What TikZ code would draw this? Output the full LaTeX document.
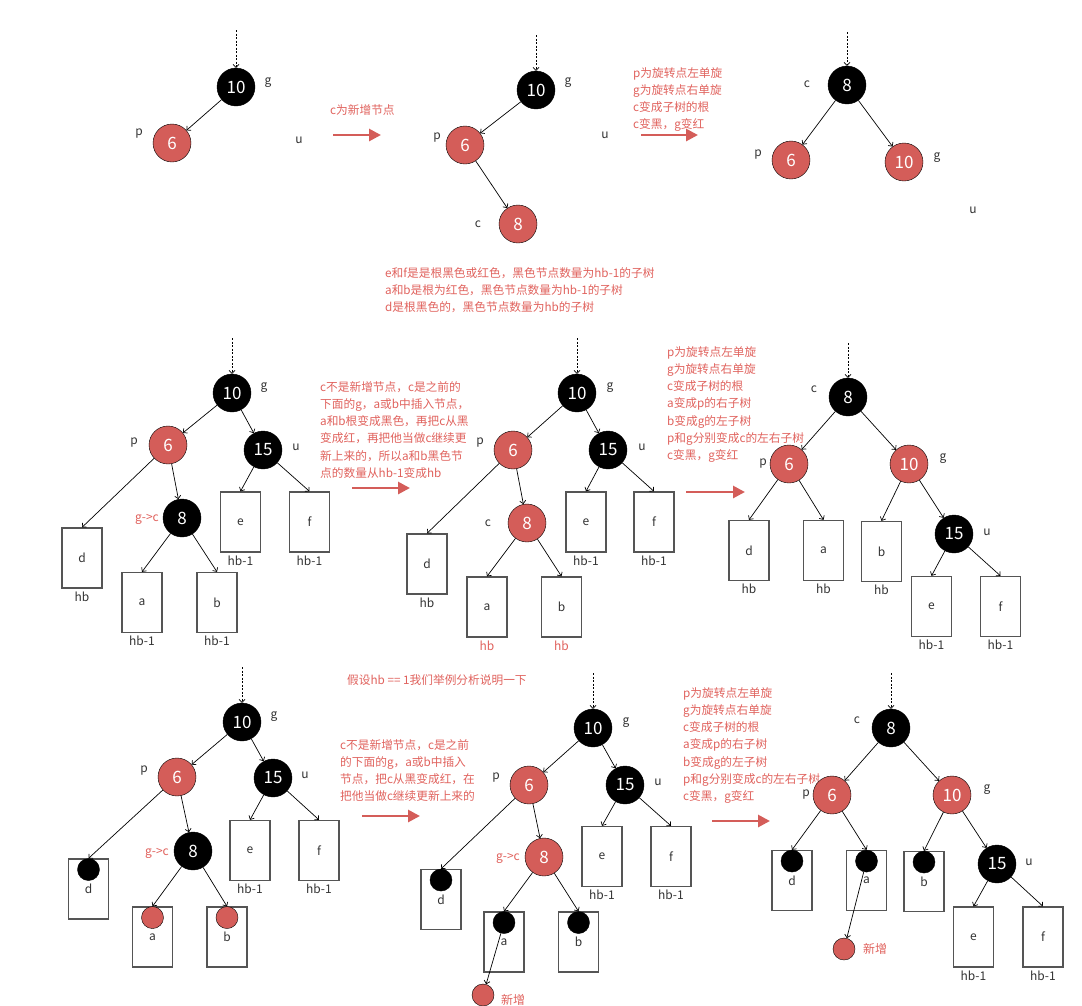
\documentclass[tikz,border=0pt]{standalone}
\usepackage{fontspec}
\setmainfont{Noto Sans CJK SC}
\usetikzlibrary{arrows.meta,positioning}
\definecolor{nodered}{RGB}{212,93,89}
\definecolor{notered}{RGB}{224,98,93}
\definecolor{tagtext}{RGB}{51,51,51}
\definecolor{boxline}{RGB}{85,85,85}
\tikzset{
  blk/.style={circle,draw=black,fill=black,text=white,minimum size=38pt,inner sep=0pt,font=\fontsize{17}{17}\selectfont},
  rd/.style={blk,fill=nodered},
  tag/.style={text=tagtext,font=\fontsize{12}{12}\selectfont,inner sep=1pt},
  redtag/.style={tag,text=notered},
  subbox/.style={draw=boxline,line width=1.3pt,minimum width=40pt,minimum height=60pt,inner sep=0pt,text=tagtext,font=\fontsize{12}{12}\selectfont},
  edge/.style={-{Straight Barb[length=3pt,width=6pt]},line width=0.7pt},
  feed/.style={edge,dash pattern=on 2pt off 1.5pt},
  note/.style={text=notered,align=left,anchor=north west,inner sep=0pt,font=\fontsize{11.7}{17.3}\selectfont},
  go/.style={draw=nodered,line width=2.8pt,-{Triangle[length=12pt,width=12pt]}},
  dot/.style={circle,draw=black,minimum size=22pt,inner sep=0pt},
}
\newcommand*\subtree[5][]{\node[subbox,#1] (#2) at (#3,#4) {#5};}
\newcommand*\hbtag[3][]{\node[tag,below=2pt of #2,#1] (#2-hb) {#3};}
\newcommand*\topdot[3][black]{\node[dot,fill=#1,anchor=north] (#2) at (#3.north) {};}

\begin{document}
\begin{tikzpicture}[x=1pt,y=-1pt]
\useasboundingbox (0,0) rectangle (1082,1005);

% top row: c is new
\coordinate (t1) at (236,30);
\node[blk] (g1) at (236,87) {10};
\node[rd] (p1) at (172,143) {6};
\node[tag] (g1l) at (268,83) {g};
\node[tag] (p1l) at (139,134) {p};
\node[tag] (u1l) at (299,140) {u};
\draw[feed] (t1) -- (g1);
\draw[edge] (g1) -- (p1);

\node[note] (n1) at (330,104) {c为新增节点};
\coordinate (a1s) at (333,135);
\coordinate (a1e) at (381,135);
\draw[go] (a1s) -- (a1e);

\coordinate (t2) at (536,35);
\node[blk] (g2) at (536,90) {10};
\node[rd] (p2) at (465,145) {6};
\node[rd] (c2) at (518,224) {8};
\node[tag] (g2l) at (568,83) {g};
\node[tag] (p2l) at (437,138) {p};
\node[tag] (u2l) at (605,135) {u};
\node[tag] (c2l) at (478,224) {c};
\draw[feed] (t2) -- (g2);
\draw[edge] (g2) -- (p2);
\draw[edge] (p2) -- (c2);

\node[note] (n2) at (633,67) {p为旋转点左单旋\\g为旋转点右单旋\\c变成子树的根\\c变黑，g变红};
\coordinate (a2s) at (641,135);
\coordinate (a2e) at (698,135);
\draw[go] (a2s) -- (a2e);

\coordinate (t3) at (847,32);
\node[blk] (c3) at (847,85) {8};
\node[rd] (p3) at (791,160) {6};
\node[rd] (g3) at (904,162) {10};
\node[tag] (c3l) at (807,84) {c};
\node[tag] (p3l) at (758,155) {p};
\node[tag] (g3l) at (937,158) {g};
\node[tag] (u3l) at (973,210) {u};
\draw[feed] (t3) -- (c3);
\draw[edge] (c3) -- (p3);
\draw[edge] (c3) -- (g3);

\node[note] (n3) at (385,267) {e和f是是根黑色或红色，黑色节点数量为hb-1的子树\\a和b是根为红色，黑色节点数量为hb-1的子树\\d是根黑色的，黑色节点数量为hb的子树};

% middle row: c is not new
\coordinate (t4) at (232,338);
\node[blk] (g4) at (232,393) {10};
\node[rd] (p4) at (168,445) {6};
\node[blk] (u4) at (263,450) {15};
\node[blk] (c4) at (182,518) {8};
\node[tag] (g4l) at (264,388) {g};
\node[tag] (p4l) at (134,443) {p};
\node[tag] (u4l) at (296,447) {u};
\node[redtag] (c4l) at (147,519) {g->c};
\subtree{d4}{82}{558}{d}
\subtree{a4}{142}{602.5}{a}
\subtree{b4}{217}{602.5}{b}
\subtree{e4}{240.5}{522}{e}
\subtree{f4}{309.5}{522}{f}
\foreach \b/\t in {d4/hb,a4/hb-1,b4/hb-1,e4/hb-1,f4/hb-1} {\hbtag{\b}{\t}}
\draw[feed] (t4) -- (g4);
\foreach \s/\e in {g4/p4,g4/u4,p4/d4.north,p4/c4,c4/a4.north,c4/b4.north,u4/e4.north,u4/f4.north}
  \draw[edge] (\s) -- (\e);

\node[note] (n4) at (320,381) {c不是新增节点，c是之前的\\下面的g，a或b中插入节点，\\a和b根变成黑色，再把c从黑\\变成红，再把他当做c继续更\\新上来的，所以a和b黑色节\\点的数量从hb-1变成hb};
\coordinate (a4s) at (352,488);
\coordinate (a4e) at (410,488);
\draw[go] (a4s) -- (a4e);

\coordinate (t5) at (577,338);
\node[blk] (g5) at (577,393) {10};
\node[rd] (p5) at (513,450) {6};
\node[blk] (u5) at (608,450) {15};
\node[rd] (c5) at (527,523) {8};
\node[tag] (g5l) at (610,388) {g};
\node[tag] (p5l) at (480,443) {p};
\node[tag] (u5l) at (642,447) {u};
\node[tag] (c5l) at (488,523) {c};
\subtree{d5}{427}{564}{d}
\subtree{a5}{487}{607}{a}
\subtree{b5}{561.5}{607}{b}
\subtree{e5}{586}{522}{e}
\subtree{f5}{654}{522}{f}
\foreach \b/\t in {d5/hb,e5/hb-1,f5/hb-1} {\hbtag{\b}{\t}}
\foreach \b in {a5,b5} {\hbtag[text=notered]{\b}{hb}}
\draw[feed] (t5) -- (g5);
\foreach \s/\e in {g5/p5,g5/u5,p5/d5.north,p5/c5,c5/a5.north,c5/b5.north,u5/e5.north,u5/f5.north}
  \draw[edge] (\s) -- (\e);

\node[note] (n5) at (667,346) {p为旋转点左单旋\\g为旋转点右单旋\\c变成子树的根\\a变成p的右子树\\b变成g的左子树\\p和g分别变成c的左右子树\\c变黑，g变红};
\coordinate (a5s) at (686,492);
\coordinate (a5e) at (745,492);
\draw[go] (a5s) -- (a5e);

\coordinate (t6) at (848,343);
\node[blk] (c6) at (848,397) {8};
\node[rd] (p6) at (789,464) {6};
\node[rd] (g6) at (909,464) {10};
\node[blk] (u6) at (954,534) {15};
\node[tag] (c6l) at (814,389) {c};
\node[tag] (p6l) at (763,464) {p};
\node[tag] (g6l) at (943,459) {g};
\node[tag] (u6l) at (987,532) {u};
\subtree{d6}{749}{550.5}{d}
\subtree{a6}{823.5}{550.5}{a}
\subtree{b6}{881.5}{551.5}{b}
\subtree{e6}{931.5}{606.5}{e}
\subtree{f6}{1000.5}{606.5}{f}
\foreach \b/\t in {d6/hb,a6/hb,b6/hb,e6/hb-1,f6/hb-1} {\hbtag{\b}{\t}}
\draw[feed] (t6) -- (c6);
\foreach \s/\e in {c6/p6,c6/g6,p6/d6.north,p6/a6.north,g6/b6.north,g6/u6,u6/e6.north,u6/f6.north}
  \draw[edge] (\s) -- (\e);

% bottom row: hb == 1
\node[note] (n6) at (347,674) {假设hb == 1我们举例分析说明一下};

\coordinate (t7) at (242,667);
\node[blk] (g7) at (242,722) {10};
\node[rd] (p7) at (177,777) {6};
\node[blk] (u7) at (273,778) {15};
\node[blk] (c7) at (193,851) {8};
\node[tag] (g7l) at (274,717) {g};
\node[tag] (p7l) at (144,771) {p};
\node[tag] (u7l) at (305,775) {u};
\node[redtag] (c7l) at (157,853) {g->c};
\subtree{d7}{88.5}{889}{d}
\subtree{a7}{152.5}{937}{a}
\subtree{b7}{227}{937}{b}
\subtree{e7}{250}{850.5}{e}
\subtree{f7}{319}{850.5}{f}
\topdot{d7o}{d7}
\topdot[nodered]{a7o}{a7}
\topdot[nodered]{b7o}{b7}
\foreach \b in {e7,f7} {\hbtag{\b}{hb-1}}
\draw[feed] (t7) -- (g7);
\foreach \s/\e in {g7/p7,g7/u7,p7/d7.north,p7/c7,c7/a7.north,c7/b7.north,u7/e7.north,u7/f7.north}
  \draw[edge] (\s) -- (\e);

\node[note] (n7) at (340,739) {c不是新增节点，c是之前\\的下面的g，a或b中插入\\节点，把c从黑变成红，在\\把他当做c继续更新上来的};
\coordinate (a7s) at (362,816);
\coordinate (a7e) at (420,816);
\draw[go] (a7s) -- (a7e);

\coordinate (t8) at (593,673);
\node[blk] (g8) at (593,728) {10};
\node[rd] (p8) at (529,785) {6};
\node[blk] (u8) at (625,785) {15};
\node[rd] (c8) at (544,857) {8};
\node[tag] (g8l) at (626,723) {g};
\node[tag] (p8l) at (496,778) {p};
\node[tag] (u8l) at (658,782) {u};
\node[redtag] (c8l) at (508,858) {g->c};
\subtree{d8}{441}{899.5}{d}
\subtree{a8}{504}{942}{a}
\subtree{b8}{578.5}{942}{b}
\subtree{e8}{602}{856.5}{e}
\subtree{f8}{671}{856.5}{f}
\foreach \b in {d8,a8,b8} {\topdot{\b o}{\b}}
\foreach \b in {e8,f8} {\hbtag{\b}{hb-1}}
\node[dot,fill=nodered] (new8) at (483,995) {};
\node[redtag] (new8l) at (513,1000) {新增};
\draw[feed] (t8) -- (g8);
\foreach \s/\e in {g8/p8,g8/u8,p8/d8.north,p8/c8,c8/a8.north,c8/b8.north,u8/e8.north,u8/f8.north,a8o/new8}
  \draw[edge] (\s) -- (\e);

\node[note] (n8) at (683,687) {p为旋转点左单旋\\g为旋转点右单旋\\c变成子树的根\\a变成p的右子树\\b变成g的左子树\\p和g分别变成c的左右子树\\c变黑，g变红};
\coordinate (a8s) at (712,821);
\coordinate (a8e) at (770,821);
\draw[go] (a8s) -- (a8e);

\coordinate (t9) at (891,673);
\node[blk] (c9) at (891,728) {8};
\node[rd] (p9) at (832,795) {6};
\node[rd] (g9) at (952,795) {10};
\node[blk] (u9) at (997,864) {15};
\node[tag] (c9l) at (857,720) {c};
\node[tag] (p9l) at (806,795) {p};
\node[tag] (g9l) at (987,790) {g};
\node[tag] (u9l) at (1029,862) {u};
\subtree{d9}{792}{880.5}{d}
\subtree{a9}{866.5}{880.5}{a}
\subtree{b9}{924}{881.5}{b}
\subtree{e9}{973.5}{937}{e}
\subtree{f9}{1043}{937}{f}
\foreach \b in {d9,a9,b9} {\topdot{\b o}{\b}}
\foreach \b in {e9,f9} {\hbtag{\b}{hb-1}}
\node[dot,fill=nodered] (new9) at (844,949) {};
\node[redtag] (new9l) at (875,949) {新增};
\draw[feed] (t9) -- (c9);
\foreach \s/\e in {c9/p9,c9/g9,p9/d9.north,p9/a9.north,g9/b9.north,g9/u9,u9/e9.north,u9/f9.north,a9o/new9}
  \draw[edge] (\s) -- (\e);

\end{tikzpicture}
\end{document}
